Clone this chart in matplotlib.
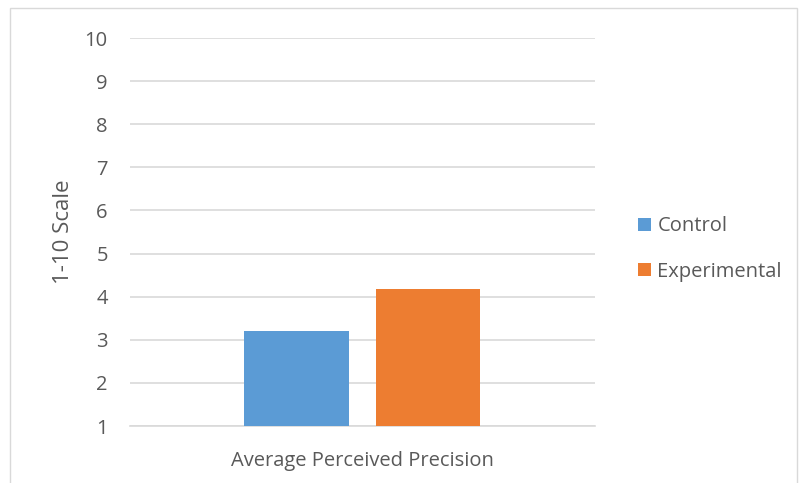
import matplotlib.pyplot as plt
from matplotlib.patches import Rectangle

plt.rcParams['font.family'] = ['Open Sans', 'DejaVu Sans']

category = "Average Perceived Precision"
groups = ["Control", "Experimental"]
values = [3.2, 4.18]
colors = ["#5b9bd5", "#ed7d31"]
offsets = [-0.142, 0.141]
text_color = "#595959"

fig = plt.figure(figsize=(7.99, 4.83), dpi=100)
ax = fig.add_axes([130/799, 1 - 426/483, 465/799, 388/483])

# bars rise from the bottom of the scale (1)
for g, v, c, off in zip(groups, values, colors, offsets):
    ax.bar(off, v - 1, bottom=1, width=0.224, color=c, label=g, zorder=3)

ax.set_xlim(-0.5, 0.5)
ax.set_ylim(1, 10)
ax.set_yticks(range(1, 11))
ax.yaxis.grid(True, color="#d9d9d9", linewidth=1.2, zorder=0)
ax.set_xticks([0])
ax.set_xticklabels([category])
ax.tick_params(length=0, labelsize=14.5, colors=text_color)
ax.tick_params(axis="y", pad=16)
ax.tick_params(axis="x", pad=18)
for s in ["top", "right", "left"]:
    ax.spines[s].set_visible(False)
ax.spines["bottom"].set_color("#d9d9d9")
ax.spines["bottom"].set_linewidth(1.2)
ax.set_ylabel("1-10 Scale", fontsize=16, color=text_color, labelpad=8)

fig.legend(loc="center left", bbox_to_anchor=(620/799, 1 - 249/483), frameon=False,
           fontsize=14.5, labelcolor=text_color, handlelength=0.65, handleheight=0.65,
           handletextpad=0.3, labelspacing=1.25)

fig.patches.append(Rectangle((10/799, -0.01), 787/799, 1 - 8/483 + 0.01,
                             transform=fig.transFigure, fill=False,
                             edgecolor="#d9d9d9", linewidth=1))

fig.savefig("out.png", dpi=100)
